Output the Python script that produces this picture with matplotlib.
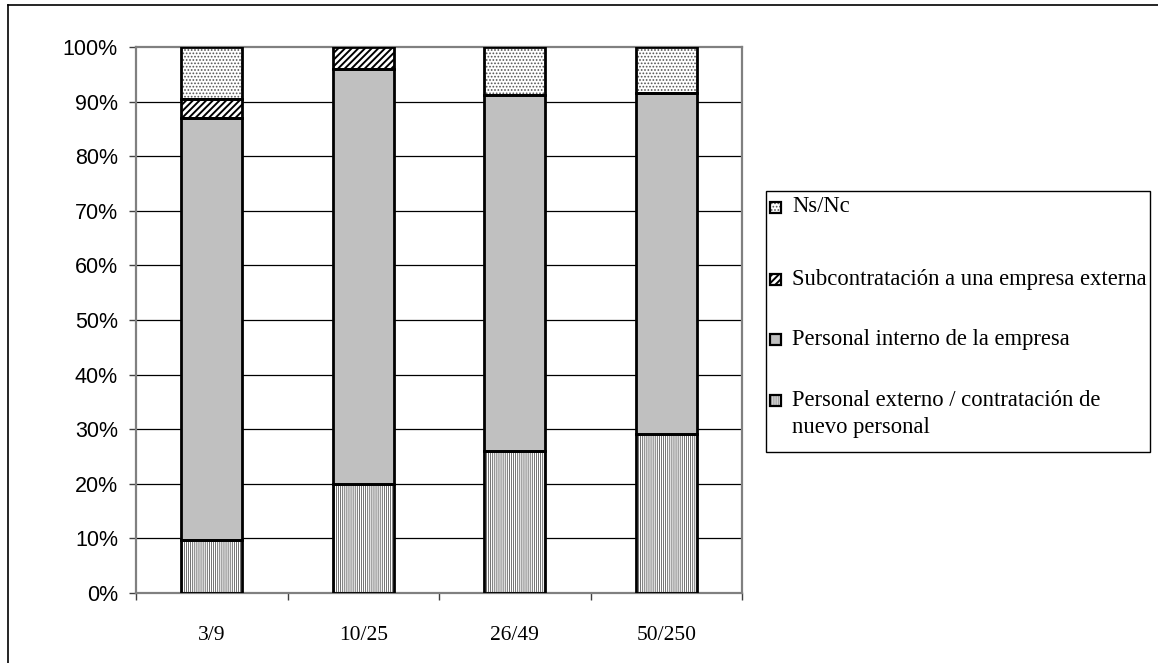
import matplotlib
matplotlib.use("Agg")
import matplotlib.pyplot as plt
from matplotlib.patches import Rectangle
from matplotlib.lines import Line2D
import numpy as np

# Company size bands (employees) and share of each answer, in percent
categories = ["3/9", "10/25", "26/49", "50/250"]
externo = [9.7, 19.9, 25.9, 29.1]
interno = [77.4, 76.1, 65.4, 62.6]
subcontratacion = [3.4, 4.0, 0.0, 0.0]
ns_nc = [9.5, 0.0, 8.7, 8.3]

series_names = [
    "Personal externo / contratación de\nnuevo personal",
    "Personal interno de la empresa",
    "Subcontratación a una empresa externa",
    "Ns/Nc",
]
y_ticks = list(range(0, 101, 10))

W, H = 1158, 663
plt.rcParams["hatch.linewidth"] = 0.8
fig = plt.figure(figsize=(W / 100, H / 100), dpi=100)
fig.patch.set_facecolor("white")


def fx(x):
    return x / W


def fy(y):
    return 1 - y / H


def set_hlw(patch, lw):
    if hasattr(patch, "set_hatch_linewidth"):
        patch.set_hatch_linewidth(lw)


ax = fig.add_axes([fx(136), fy(592.7), (742 - 136) / W, (592.7 - 47.3) / H])

# fill colour, hatch pattern, hatch colour, hatch line width per series
styles = [
    ("white", "||||||||", "#4a4a4a", 0.55),
    ("#c0c0c0", None, "#c0c0c0", 0.8),
    ("white", "/////", "black", 1.4),
    ("white", ".....", "#555555", 0.8),
]
data = [externo, interno, subcontratacion, ns_nc]

x = np.arange(len(categories))
width = 0.40
bottom = np.zeros(len(categories))
for vals, (face, hatch, hcol, hlw) in zip(data, styles):
    vals = np.array(vals, dtype=float)
    mask = vals > 0
    with plt.rc_context({"hatch.linewidth": hlw}):
        bars = ax.bar(x[mask], vals[mask], width, bottom=bottom[mask],
                      color=face, hatch=hatch, edgecolor=hcol, linewidth=0,
                      zorder=2)
    for b in bars:
        set_hlw(b, hlw)
    ax.bar(x[mask], vals[mask], width, bottom=bottom[mask], fill=False,
           edgecolor="black", linewidth=2.0, zorder=3)
    bottom += vals

ax.set_xlim(-0.5, len(categories) - 0.5)
ax.set_ylim(0, 100)

# horizontal gridlines
for v in y_ticks[1:-1]:
    ax.axhline(v, color="black", linewidth=0.9, zorder=1)

for s in ax.spines.values():
    s.set_color("#808080")
    s.set_linewidth(1.6)

ax.set_yticks(y_ticks)
ax.set_yticklabels([f"{v}%" for v in y_ticks], fontfamily="Liberation Sans",
                   fontsize=15.5)
ax.tick_params(axis="y", direction="out", length=5, width=1, color="#404040",
               pad=8)

ax.set_xticks(np.arange(-0.5, len(categories), 1.0))
ax.set_xticklabels([])
ax.tick_params(axis="x", which="major", direction="out", length=5, width=1,
               color="#404040")
ax.set_xticks(x, minor=True)
ax.set_xticklabels(categories, minor=True, fontfamily="Liberation Serif",
                   fontsize=15.5)
ax.tick_params(axis="x", which="minor", length=0, pad=24)

# legend box
fig.add_artist(Rectangle((fx(766), fy(452)), (1150 - 766) / W, (452 - 191) / H,
                         transform=fig.transFigure, facecolor="white",
                         edgecolor="black", linewidth=1.0))
legend_rows = [(3, 207), (2, 279), (1, 339), (0, 400)]
for idx, yc in legend_rows:
    face, hatch, hcol, hlw = styles[idx]
    rect_args = ((fx(770), fy(yc + 6)), 11 / W, 11 / H)
    with plt.rc_context({"hatch.linewidth": hlw}):
        r = Rectangle(*rect_args, transform=fig.transFigure, facecolor=face,
                      hatch=hatch, edgecolor=hcol, linewidth=0)
    set_hlw(r, hlw)
    fig.add_artist(r)
    fig.add_artist(Rectangle(*rect_args, transform=fig.transFigure,
                             fill=False, edgecolor="black", linewidth=1.6))
    lines = series_names[idx].split("\n")
    for k, line in enumerate(lines):
        fig.text(fx(792), fy(yc + 28 * k), line,
                 fontfamily="Liberation Serif", fontsize=16.3, va="center",
                 ha="left")

# outer chart frame
fig.add_artist(Line2D([fx(8), fx(8)], [fy(5), fy(663)],
                      transform=fig.transFigure, color="black", linewidth=1.2))
fig.add_artist(Line2D([fx(8), fx(1158)], [fy(5), fy(5)],
                      transform=fig.transFigure, color="black", linewidth=1.2))

fig.savefig("out.png", dpi=100, facecolor="white")
